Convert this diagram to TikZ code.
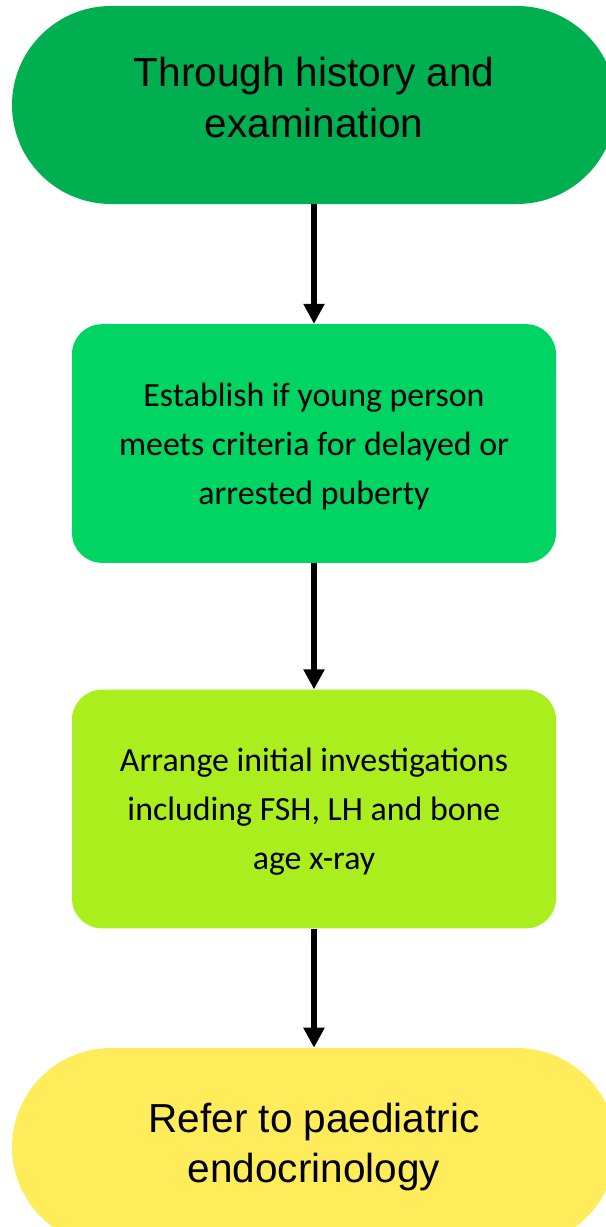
\documentclass[tikz,border=0pt]{standalone}
\usepackage{fontspec}
\newfontfamily\arialfont{Liberation Sans}
\newfontfamily\calibrifont{Carlito}
\usetikzlibrary{arrows.meta}
\definecolor{histgreen}{RGB}{0,176,80}
\definecolor{estgreen}{RGB}{0,212,98}
\definecolor{arrlime}{RGB}{170,238,30}
\definecolor{refyellow}{RGB}{255,236,90}
\begin{document}
\begin{tikzpicture}[x=0.75pt,y=0.75pt,yscale=-1,xscale=1,
    stadium/.style={rectangle, rounded corners=74.3pt, minimum width=453pt, minimum height=148.5pt, align=center, font=\arialfont\fontsize{30.4}{38}\selectfont},
    stepbox/.style={rectangle, rounded corners=22.5pt, minimum width=363pt, minimum height=179pt, align=center, font=\calibrifont\fontsize{25.4}{36.75}\selectfont, text depth=-18pt},
    flow/.style={line width=4pt, -{Triangle[width=15pt,length=15pt]}}]
        \useasboundingbox (0,0) rectangle (606,1227);
        \clip (0,0) rectangle (606,1227);
        % boxes
        \node [stadium, fill=histgreen, execute at end node={\rule[-12pt]{0pt}{0pt}}] (hist) at (314,105) {Through history and\\examination};
        \node [stepbox, fill=estgreen] (establish) at (314,443.5) {Establish if young person\\meets criteria for delayed or\\arrested puberty};
        \node [stepbox, fill=arrlime] (arrange) at (314,809) {Arrange initial investigations\\including FSH, LH and bone\\age x-ray};
        \node [stadium, fill=refyellow] (refer) at (314,1147) {Refer to paediatric\\endocrinology};
        % arrows
        \draw [flow] (hist) -- (establish);
        \draw [flow] (establish) -- (arrange);
        \draw [flow] (arrange) -- (refer);
    \end{tikzpicture}
\end{document}
